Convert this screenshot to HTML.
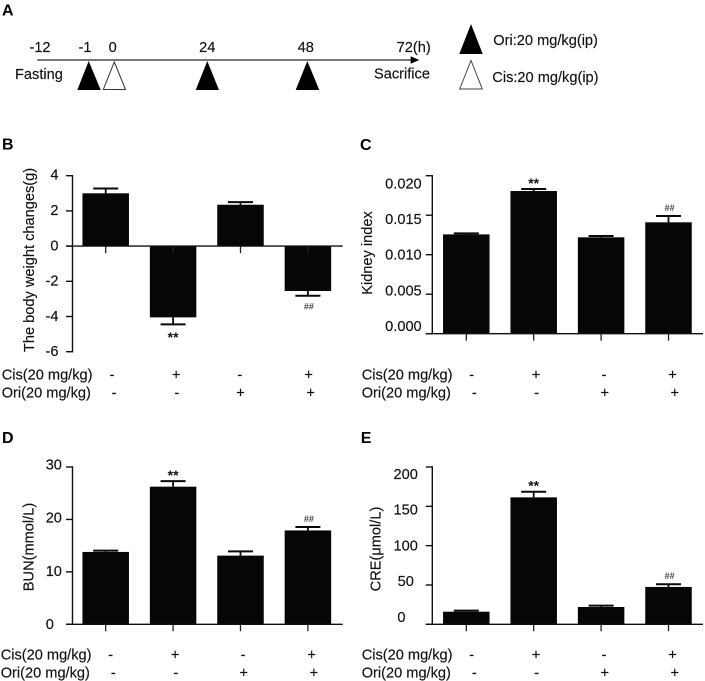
<!DOCTYPE html>
<html lang="en">
<head>
<meta charset="utf-8">
<title>Ori and Cis kidney injury figure</title>
<style>
html,body{margin:0;padding:0;background:#fff;}
body{width:705px;height:681px;overflow:hidden;}
svg{display:block;filter:blur(0.35px);}
text{font-family:"Liberation Sans",Arial,sans-serif;fill:#111;font-size:14.6px;stroke:#111;stroke-width:0.15px;}
.panel-letter{font-weight:bold;font-size:16px;fill:#000;stroke:none;}
</style>
</head>
<body>
<svg id="figure" width="705" height="681" viewBox="0 0 705 681" xmlns="http://www.w3.org/2000/svg">
  <rect x="0" y="0" width="705" height="681" fill="#fff"/>
  <g>
    <text class="panel-letter" x="2" y="15.5">A</text>
    <line x1="37.3" y1="60" x2="412" y2="60" stroke="#4a4a4a" stroke-width="1.6"/>
    <polygon points="410.7,56.2 419.3,60 410.7,63.8" fill="#000"/>
    <text x="40" y="52" text-anchor="middle">-12</text>
    <text x="85" y="52" text-anchor="middle">-1</text>
    <text x="112.7" y="52" text-anchor="middle">0</text>
    <text x="207.3" y="52" text-anchor="middle">24</text>
    <text x="305.7" y="52" text-anchor="middle">48</text>
    <text x="413.7" y="52" text-anchor="middle">72(h)</text>
    <text x="15" y="79">Fasting</text>
    <text x="374" y="78.5">Sacrifice</text>
    <polygon points="88.7,61 100.7,90 77.3,90" fill="#000"/>
    <polygon points="114.3,62 125.5,89.5 103.3,89.5" fill="#fff" stroke="#333" stroke-width="1"/>
    <polygon points="207.3,61 219,90 195.7,90" fill="#000"/>
    <polygon points="307.3,61 319.3,90 295.7,90" fill="#000"/>
    <polygon points="471,24 482.7,54 459.3,54" fill="#000"/>
    <polygon points="471,60.5 482.3,89 459.7,89" fill="#fff" stroke="#444" stroke-width="1"/>
    <text x="493.3" y="45">Ori:20 mg/kg(ip)</text>
    <text x="492.3" y="82">Cis:20 mg/kg(ip)</text>
  </g>
  <g id="panel-b"></g>
  <g id="panel-c"></g>
  <g id="panel-d"></g>
  <g id="panel-e"></g>
</svg>
<script>
const categories = ["control", "cis", "ori", "cis-ori"];
const cisSigns = ["-", "+", "-", "+"];
const oriSigns = ["-", "-", "+", "+"];

const bodyWeightTicks = ["4", "2", "0", "-2", "-4", "-6"];
const bodyWeightMeans = [3.0, -4.05, 2.35, -2.55];
const bodyWeightErrors = [0.27, 0.4, 0.15, 0.27];
const bodyWeightMarks = ["", "**", "", "##"];

const kidneyTicks = ["0.020", "0.015", "0.010", "0.005", "0.000"];
const kidneyMeans = [0.01257, 0.01806, 0.0122, 0.0141];
const kidneyErrors = [0.00013, 0.00025, 0.00016, 0.0008];
const kidneyMarks = ["", "**", "", "##"];

const bunTicks = ["30", "20", "10", "0"];
const bunMeans = [13.8, 26.25, 13.1, 17.9];
const bunErrors = [0.25, 1.05, 0.8, 0.65];
const bunMarks = ["", "**", "", "##"];

const creTicks = ["200", "150", "100", "50", "0"];
const creMeans = [16, 161.4, 22, 47.5];
const creErrors = [1.4, 7.2, 1.7, 3.5];
const creMarks = ["", "**", "", "##"];

const NS = "http://www.w3.org/2000/svg";

function svgEl(parent, tag, attrs, content) {
  const el = document.createElementNS(NS, tag);
  for (const k in attrs) el.setAttribute(k, attrs[k]);
  if (content !== undefined) el.textContent = content;
  parent.appendChild(el);
  return el;
}

function linearScale(d0, d1, r0, r1) {
  return function (v) { return r0 + (v - d0) * (r1 - r0) / (d1 - d0); };
}

function drawPanel(cfg) {
  const root = document.getElementById(cfg.id);
  const values = cfg.ticks.map(Number);
  const maxV = Math.max.apply(null, values);
  const minV = Math.min.apply(null, values);
  const y = linearScale(maxV, minV, cfg.yTop, cfg.yBottom);
  const labelY = linearScale(maxV, minV, cfg.labelTop, cfg.labelBottom);
  const x = function (i) { return cfg.x0 + i * cfg.step; };
  const base = y(0);
  const barWidth = 46.5;
  const capWidth = 25;

  const letter = svgEl(root, "text", { "class": "panel-letter", x: cfg.letterX, y: cfg.letterY }, cfg.letter);
  
  

  categories.forEach(function (c, i) {
    const mean = cfg.means[i];
    const err = cfg.errors[i];
    const dir = mean >= 0 ? 1 : -1;
    const topY = y(mean);
    const errY = y(mean + dir * err);

    const stem = svgEl(root, "line", { x1: x(i), x2: x(i), y1: topY, y2: errY, stroke: "#0a0a0a", "stroke-width": 1.8 });
    
    

    const cap = svgEl(root, "line", { x1: x(i) - capWidth / 2, x2: x(i) + capWidth / 2, y1: errY, y2: errY, stroke: "#0a0a0a", "stroke-width": 2 });
    
    

    const bar = svgEl(root, "rect", { x: x(i) - barWidth / 2, y: Math.min(topY, base), width: barWidth, height: Math.abs(base - topY), fill: "#060606" });
    
    

    const tick = svgEl(root, "line", { x1: x(i), x2: x(i), y1: base, y2: base + 7, stroke: "#222", "stroke-width": 1.3 });
    
    

    const mark = cfg.marks[i];
    if (mark) {
      const isStar = mark === "**";
      const offset = (dir > 0 ? -1 : 1) * (isStar ? (dir > 0 ? 7.3 : 11.7) : (dir > 0 ? 8.3 : 10.7));
      const cy = errY + offset;
      const t = svgEl(root, "text", {
        x: x(i) + (isStar ? 0 : 1),
        y: cy + (isStar ? 6 : 3.2),
        "text-anchor": "middle",
        style: isStar ? "font-size:14px;font-weight:bold;stroke:none" : "font-size:9px;font-weight:bold;fill:#444;stroke:none"
      }, mark);
      
      
    }

    const cisSign = svgEl(root, "text", { x: x(i) + cfg.cisNudge[i], y: cfg.rowCis + 5, "text-anchor": "middle" }, cisSigns[i]);
    
    

    const oriSign = svgEl(root, "text", { x: x(i) + cfg.oriNudge[i], y: cfg.rowOri + 5, "text-anchor": "middle" }, oriSigns[i]);
    
    
  });

  const yAxis = svgEl(root, "line", { x1: cfg.axisX, x2: cfg.axisX, y1: cfg.yTop - 0.7, y2: cfg.yBottom + 0.7, stroke: "#111", "stroke-width": 1.4 });
  
  

  const xAxis = svgEl(root, "line", { x1: cfg.axisX - 6.5, x2: cfg.axisEnd, y1: base, y2: base, stroke: "#111", "stroke-width": 1.4 });
  
  

  cfg.ticks.forEach(function (label, i) {
    const v = values[i];
    const tick = svgEl(root, "line", { x1: cfg.axisX - 6.5, x2: cfg.axisX, y1: y(v), y2: y(v), stroke: "#111", "stroke-width": 1.4 });
    
    

    const t = svgEl(root, "text", {
      x: cfg.labelX + (v === 0 ? cfg.zeroShift : 0),
      y: labelY(v) + 5.2,
      "text-anchor": cfg.labelAnchor
    }, label);
    
    
  });

  const title = svgEl(root, "text", {
    transform: "translate(" + cfg.titleX + "," + cfg.titleY + ") rotate(-90)",
    "text-anchor": "middle"
  }, cfg.title);
  
  

  const cisRow = svgEl(root, "text", { x: cfg.rowLabelX, y: cfg.rowCis + 5 }, "Cis(20 mg/kg)");
  
  

  const oriRow = svgEl(root, "text", { x: cfg.rowLabelX, y: cfg.rowOri + 5 }, "Ori(20 mg/kg)");
  
  
}

drawPanel({
  id: "panel-b", letter: "B", letterX: 2, letterY: 149.5,
  ticks: bodyWeightTicks, means: bodyWeightMeans, errors: bodyWeightErrors, marks: bodyWeightMarks,
  yTop: 175.7, yBottom: 351.7, labelTop: 174.5, labelBottom: 351,
  axisX: 72.5, axisEnd: 342.7, x0: 105.7, step: 67.4,
  labelX: 58.5, labelAnchor: "end", zeroShift: 0,
  title: "The body weight changes(g)", titleX: 34, titleY: 260,
  rowLabelX: 1.7, rowCis: 374.3, rowOri: 392.3,
  cisNudge: [6.3, 3, -0.7, 0.7], oriNudge: [8.3, 3.7, 0, 2.7]
});

drawPanel({
  id: "panel-c", letter: "C", letterX: 360, letterY: 150,
  ticks: kidneyTicks, means: kidneyMeans, errors: kidneyErrors, marks: kidneyMarks,
  yTop: 175.7, yBottom: 333.7, labelTop: 183.3, labelBottom: 325.7,
  axisX: 432.3, axisEnd: 703, x0: 466.3, step: 67.4,
  labelX: 421.7, labelAnchor: "end", zeroShift: 0,
  title: "Kidney index", titleX: 372, titleY: 253,
  rowLabelX: 361.7, rowCis: 374.3, rowOri: 392.3,
  cisNudge: [5.4, 2.3, 3, 4], oriNudge: [8, 3, 3.7, 6.3]
});

drawPanel({
  id: "panel-d", letter: "D", letterX: 2, letterY: 443,
  ticks: bunTicks, means: bunMeans, errors: bunErrors, marks: bunMarks,
  yTop: 467, yBottom: 624.3, labelTop: 464.3, labelBottom: 624,
  axisX: 72.5, axisEnd: 342.7, x0: 105.7, step: 67.4,
  labelX: 45.7, labelAnchor: "start", zeroShift: 0,
  title: "BUN(mmol/L)", titleX: 33.5, titleY: 547,
  rowLabelX: 0.7, rowCis: 654.3, rowOri: 672.3,
  cisNudge: [5, 2, 2.6, 3.7], oriNudge: [7.6, 2.7, 3.3, 6]
});

drawPanel({
  id: "panel-e", letter: "E", letterX: 360.7, letterY: 443,
  ticks: creTicks, means: creMeans, errors: creErrors, marks: creMarks,
  yTop: 467, yBottom: 624.3, labelTop: 473.7, labelBottom: 616.7,
  axisX: 432.3, axisEnd: 703, x0: 466.3, step: 67.4,
  labelX: 405.7, labelAnchor: "middle", zeroShift: -4.3,
  title: "CRE(μmol/L)", titleX: 380.5, titleY: 549,
  rowLabelX: 361.7, rowCis: 654.3, rowOri: 672.3,
  cisNudge: [5.4, 2.3, 3, 4], oriNudge: [8, 3, 3.7, 6.3]
});
</script>
</body>
</html>
